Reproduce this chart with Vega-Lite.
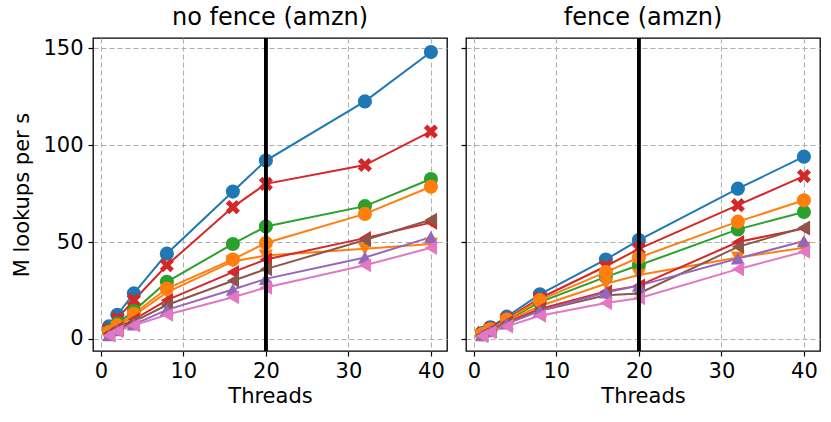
{
  "$schema": "https://vega.github.io/schema/vega-lite/v6.json",
  "padding": {"left": 11, "top": 5, "right": 8, "bottom": 6},
  "background": "white",
  "config": {
    "font": "DejaVu Sans",
    "view": {"stroke": "black", "strokeWidth": 1.3},
    "axis": {
      "labelFontSize": 21, "titleFontSize": 21, "titleFontWeight": "normal",
      "labelColor": "black", "titleColor": "black",
      "tickColor": "black", "tickSize": 5, "tickWidth": 1.2,
      "domain": false,
      "grid": true, "gridColor": "#b0b0b0", "gridDash": [5, 3], "gridWidth": 1.1,
      "labelPadding": 4
    },
    "title": {"fontSize": 24, "fontWeight": "normal", "color": "black", "offset": 7},
    "concat": {"spacing": 11}
  },
  "datasets": {
    "perf": [
      {"panel": "no fence", "series": "A", "threads": 1, "value": 6.5},
      {"panel": "no fence", "series": "A", "threads": 2, "value": 12.5},
      {"panel": "no fence", "series": "A", "threads": 4, "value": 23.5},
      {"panel": "no fence", "series": "A", "threads": 8, "value": 44},
      {"panel": "no fence", "series": "A", "threads": 16, "value": 76},
      {"panel": "no fence", "series": "A", "threads": 20, "value": 92},
      {"panel": "no fence", "series": "A", "threads": 32, "value": 122.5},
      {"panel": "no fence", "series": "A", "threads": 40, "value": 148},
      {"panel": "no fence", "series": "B", "threads": 1, "value": 5},
      {"panel": "no fence", "series": "B", "threads": 2, "value": 10.5},
      {"panel": "no fence", "series": "B", "threads": 4, "value": 20},
      {"panel": "no fence", "series": "B", "threads": 8, "value": 38},
      {"panel": "no fence", "series": "B", "threads": 16, "value": 68},
      {"panel": "no fence", "series": "B", "threads": 20, "value": 80},
      {"panel": "no fence", "series": "B", "threads": 32, "value": 89.7},
      {"panel": "no fence", "series": "B", "threads": 40, "value": 107},
      {"panel": "no fence", "series": "C", "threads": 1, "value": 4},
      {"panel": "no fence", "series": "C", "threads": 2, "value": 8},
      {"panel": "no fence", "series": "C", "threads": 4, "value": 14.5},
      {"panel": "no fence", "series": "C", "threads": 8, "value": 29.5},
      {"panel": "no fence", "series": "C", "threads": 16, "value": 49},
      {"panel": "no fence", "series": "C", "threads": 20, "value": 58},
      {"panel": "no fence", "series": "C", "threads": 32, "value": 68.5},
      {"panel": "no fence", "series": "C", "threads": 40, "value": 82.5},
      {"panel": "no fence", "series": "D", "threads": 1, "value": 3.5},
      {"panel": "no fence", "series": "D", "threads": 2, "value": 7},
      {"panel": "no fence", "series": "D", "threads": 4, "value": 13},
      {"panel": "no fence", "series": "D", "threads": 8, "value": 26},
      {"panel": "no fence", "series": "D", "threads": 16, "value": 41},
      {"panel": "no fence", "series": "D", "threads": 20, "value": 49.5},
      {"panel": "no fence", "series": "D", "threads": 32, "value": 64.5},
      {"panel": "no fence", "series": "D", "threads": 40, "value": 78.5},
      {"panel": "no fence", "series": "E", "threads": 1, "value": 3},
      {"panel": "no fence", "series": "E", "threads": 2, "value": 6},
      {"panel": "no fence", "series": "E", "threads": 4, "value": 12},
      {"panel": "no fence", "series": "E", "threads": 8, "value": 24},
      {"panel": "no fence", "series": "E", "threads": 16, "value": 40},
      {"panel": "no fence", "series": "E", "threads": 20, "value": 43},
      {"panel": "no fence", "series": "E", "threads": 32, "value": 46.5},
      {"panel": "no fence", "series": "E", "threads": 40, "value": 49},
      {"panel": "no fence", "series": "F", "threads": 1, "value": 3},
      {"panel": "no fence", "series": "F", "threads": 2, "value": 5.5},
      {"panel": "no fence", "series": "F", "threads": 4, "value": 10},
      {"panel": "no fence", "series": "F", "threads": 8, "value": 20},
      {"panel": "no fence", "series": "F", "threads": 16, "value": 34.5},
      {"panel": "no fence", "series": "F", "threads": 20, "value": 41},
      {"panel": "no fence", "series": "F", "threads": 32, "value": 52},
      {"panel": "no fence", "series": "F", "threads": 40, "value": 60},
      {"panel": "no fence", "series": "G", "threads": 1, "value": 2.5},
      {"panel": "no fence", "series": "G", "threads": 2, "value": 5},
      {"panel": "no fence", "series": "G", "threads": 4, "value": 9},
      {"panel": "no fence", "series": "G", "threads": 8, "value": 17.5},
      {"panel": "no fence", "series": "G", "threads": 16, "value": 30},
      {"panel": "no fence", "series": "G", "threads": 20, "value": 36},
      {"panel": "no fence", "series": "G", "threads": 32, "value": 51},
      {"panel": "no fence", "series": "G", "threads": 40, "value": 61.5},
      {"panel": "no fence", "series": "H", "threads": 1, "value": 2},
      {"panel": "no fence", "series": "H", "threads": 2, "value": 4.5},
      {"panel": "no fence", "series": "H", "threads": 4, "value": 7.5},
      {"panel": "no fence", "series": "H", "threads": 8, "value": 15},
      {"panel": "no fence", "series": "H", "threads": 16, "value": 25.5},
      {"panel": "no fence", "series": "H", "threads": 20, "value": 31},
      {"panel": "no fence", "series": "H", "threads": 32, "value": 42},
      {"panel": "no fence", "series": "H", "threads": 40, "value": 52.5},
      {"panel": "no fence", "series": "I", "threads": 1, "value": 1.8},
      {"panel": "no fence", "series": "I", "threads": 2, "value": 4},
      {"panel": "no fence", "series": "I", "threads": 4, "value": 7},
      {"panel": "no fence", "series": "I", "threads": 8, "value": 12.5},
      {"panel": "no fence", "series": "I", "threads": 16, "value": 21.5},
      {"panel": "no fence", "series": "I", "threads": 20, "value": 26.5},
      {"panel": "no fence", "series": "I", "threads": 32, "value": 38},
      {"panel": "no fence", "series": "I", "threads": 40, "value": 47},
      {"panel": "fence", "series": "A", "threads": 1, "value": 3},
      {"panel": "fence", "series": "A", "threads": 2, "value": 6},
      {"panel": "fence", "series": "A", "threads": 4, "value": 11.5},
      {"panel": "fence", "series": "A", "threads": 8, "value": 23},
      {"panel": "fence", "series": "A", "threads": 16, "value": 41},
      {"panel": "fence", "series": "A", "threads": 20, "value": 51},
      {"panel": "fence", "series": "A", "threads": 32, "value": 77.5},
      {"panel": "fence", "series": "A", "threads": 40, "value": 94},
      {"panel": "fence", "series": "B", "threads": 1, "value": 3},
      {"panel": "fence", "series": "B", "threads": 2, "value": 5.5},
      {"panel": "fence", "series": "B", "threads": 4, "value": 10.5},
      {"panel": "fence", "series": "B", "threads": 8, "value": 21},
      {"panel": "fence", "series": "B", "threads": 16, "value": 37.5},
      {"panel": "fence", "series": "B", "threads": 20, "value": 46.5},
      {"panel": "fence", "series": "B", "threads": 32, "value": 69},
      {"panel": "fence", "series": "B", "threads": 40, "value": 84},
      {"panel": "fence", "series": "C", "threads": 1, "value": 2.5},
      {"panel": "fence", "series": "C", "threads": 2, "value": 5},
      {"panel": "fence", "series": "C", "threads": 4, "value": 9.5},
      {"panel": "fence", "series": "C", "threads": 8, "value": 19},
      {"panel": "fence", "series": "C", "threads": 16, "value": 32},
      {"panel": "fence", "series": "C", "threads": 20, "value": 38},
      {"panel": "fence", "series": "C", "threads": 32, "value": 56.5},
      {"panel": "fence", "series": "C", "threads": 40, "value": 65.5},
      {"panel": "fence", "series": "D", "threads": 1, "value": 2.5},
      {"panel": "fence", "series": "D", "threads": 2, "value": 5},
      {"panel": "fence", "series": "D", "threads": 4, "value": 10},
      {"panel": "fence", "series": "D", "threads": 8, "value": 20},
      {"panel": "fence", "series": "D", "threads": 16, "value": 34.5},
      {"panel": "fence", "series": "D", "threads": 20, "value": 42},
      {"panel": "fence", "series": "D", "threads": 32, "value": 60.5},
      {"panel": "fence", "series": "D", "threads": 40, "value": 71.5},
      {"panel": "fence", "series": "E", "threads": 1, "value": 2},
      {"panel": "fence", "series": "E", "threads": 2, "value": 4.5},
      {"panel": "fence", "series": "E", "threads": 4, "value": 9},
      {"panel": "fence", "series": "E", "threads": 8, "value": 17},
      {"panel": "fence", "series": "E", "threads": 16, "value": 28.5},
      {"panel": "fence", "series": "E", "threads": 20, "value": 33},
      {"panel": "fence", "series": "E", "threads": 32, "value": 42},
      {"panel": "fence", "series": "E", "threads": 40, "value": 47},
      {"panel": "fence", "series": "F", "threads": 1, "value": 2},
      {"panel": "fence", "series": "F", "threads": 2, "value": 4.5},
      {"panel": "fence", "series": "F", "threads": 4, "value": 8.5},
      {"panel": "fence", "series": "F", "threads": 8, "value": 15.5},
      {"panel": "fence", "series": "F", "threads": 16, "value": 24.5},
      {"panel": "fence", "series": "F", "threads": 20, "value": 27.5},
      {"panel": "fence", "series": "F", "threads": 32, "value": 50},
      {"panel": "fence", "series": "F", "threads": 40, "value": 57},
      {"panel": "fence", "series": "G", "threads": 1, "value": 2},
      {"panel": "fence", "series": "G", "threads": 2, "value": 4},
      {"panel": "fence", "series": "G", "threads": 4, "value": 8},
      {"panel": "fence", "series": "G", "threads": 8, "value": 14.5},
      {"panel": "fence", "series": "G", "threads": 16, "value": 22.5},
      {"panel": "fence", "series": "G", "threads": 20, "value": 23.5},
      {"panel": "fence", "series": "G", "threads": 32, "value": 47.5},
      {"panel": "fence", "series": "G", "threads": 40, "value": 57.5},
      {"panel": "fence", "series": "H", "threads": 1, "value": 2},
      {"panel": "fence", "series": "H", "threads": 2, "value": 4},
      {"panel": "fence", "series": "H", "threads": 4, "value": 8},
      {"panel": "fence", "series": "H", "threads": 8, "value": 14.5},
      {"panel": "fence", "series": "H", "threads": 16, "value": 24},
      {"panel": "fence", "series": "H", "threads": 20, "value": 27.5},
      {"panel": "fence", "series": "H", "threads": 32, "value": 41.5},
      {"panel": "fence", "series": "H", "threads": 40, "value": 50.5},
      {"panel": "fence", "series": "I", "threads": 1, "value": 1.5},
      {"panel": "fence", "series": "I", "threads": 2, "value": 3.5},
      {"panel": "fence", "series": "I", "threads": 4, "value": 6.5},
      {"panel": "fence", "series": "I", "threads": 8, "value": 12},
      {"panel": "fence", "series": "I", "threads": 16, "value": 18.5},
      {"panel": "fence", "series": "I", "threads": 20, "value": 21},
      {"panel": "fence", "series": "I", "threads": 32, "value": 36},
      {"panel": "fence", "series": "I", "threads": 40, "value": 45}
    ]
  },
  "hconcat": [
    {
      "title": "no fence (amzn)",
      "width": 354,
      "height": 313,
      "data": {"name": "perf"},
      "transform": [{"filter": "datum.panel === 'no fence'"}],
      "encoding": {
        "x": {"field": "threads", "type": "quantitative", "title": "Threads",
              "scale": {"domain": [-0.95, 41.95], "nice": false, "zero": false},
              "axis": {"values": [0, 10, 20, 30, 40], "titlePadding": 4}},
        "y": {"field": "value", "type": "quantitative", "title": "M lookups per s",
              "scale": {"domain": [-6.2, 155.2], "nice": false, "zero": false},
              "axis": {"values": [0, 50, 100, 150], "titlePadding": 10, "labelPadding": 5}},
        "color": {"field": "series", "type": "nominal", "legend": null,
                  "scale": {"domain": ["A","B","C","D","E","F","G","H","I"],
                            "range": ["#1f77b4","#d62728","#2ca02c","#ff7f0e","#ff7f0e","#d62728","#8c564b","#9467bd","#e377c2"]}}
      },
      "layer": [
        {"mark": {"type": "line", "strokeWidth": 2, "clip": true}},
        {"mark": {"type": "point", "filled": true, "opacity": 1, "size": 200, "clip": true},
         "encoding": {"shape": {"field": "series", "type": "nominal", "legend": null,
           "scale": {"domain": ["A","B","C","D","E","F","G","H","I"],
                     "range": ["circle","M-1,-0.5L-0.5,-1L0,-0.5L0.5,-1L1,-0.5L0.5,0L1,0.5L0.5,1L0,0.5L-0.5,1L-1,0.5L-0.5,0Z","circle","circle","triangle-down","triangle-left","triangle-left","triangle-up","triangle-left"]}}}},
        {"mark": {"type": "rule", "color": "black", "strokeWidth": 2.3},
         "encoding": {"x": {"datum": 20}, "y": null, "color": null}}
      ]
    },
    {
      "title": "fence (amzn)",
      "width": 354,
      "height": 313,
      "data": {"name": "perf"},
      "transform": [{"filter": "datum.panel === 'fence'"}],
      "encoding": {
        "x": {"field": "threads", "type": "quantitative", "title": "Threads",
              "scale": {"domain": [-0.95, 41.95], "nice": false, "zero": false},
              "axis": {"values": [0, 10, 20, 30, 40], "titlePadding": 4}},
        "y": {"field": "value", "type": "quantitative", "title": null,
              "scale": {"domain": [-6.2, 155.2], "nice": false, "zero": false},
              "axis": {"values": [0, 50, 100, 150], "labels": false}},
        "color": {"field": "series", "type": "nominal", "legend": null,
                  "scale": {"domain": ["A","B","C","D","E","F","G","H","I"],
                            "range": ["#1f77b4","#d62728","#2ca02c","#ff7f0e","#ff7f0e","#d62728","#8c564b","#9467bd","#e377c2"]}}
      },
      "layer": [
        {"mark": {"type": "line", "strokeWidth": 2, "clip": true}},
        {"mark": {"type": "point", "filled": true, "opacity": 1, "size": 200, "clip": true},
         "encoding": {"shape": {"field": "series", "type": "nominal", "legend": null,
           "scale": {"domain": ["A","B","C","D","E","F","G","H","I"],
                     "range": ["circle","M-1,-0.5L-0.5,-1L0,-0.5L0.5,-1L1,-0.5L0.5,0L1,0.5L0.5,1L0,0.5L-0.5,1L-1,0.5L-0.5,0Z","circle","circle","triangle-down","triangle-left","triangle-left","triangle-up","triangle-left"]}}}},
        {"mark": {"type": "rule", "color": "black", "strokeWidth": 2.3},
         "encoding": {"x": {"datum": 20}, "y": null, "color": null}}
      ]
    }
  ],
  "resolve": {"scale": {"color": "independent", "shape": "independent"}}
}
